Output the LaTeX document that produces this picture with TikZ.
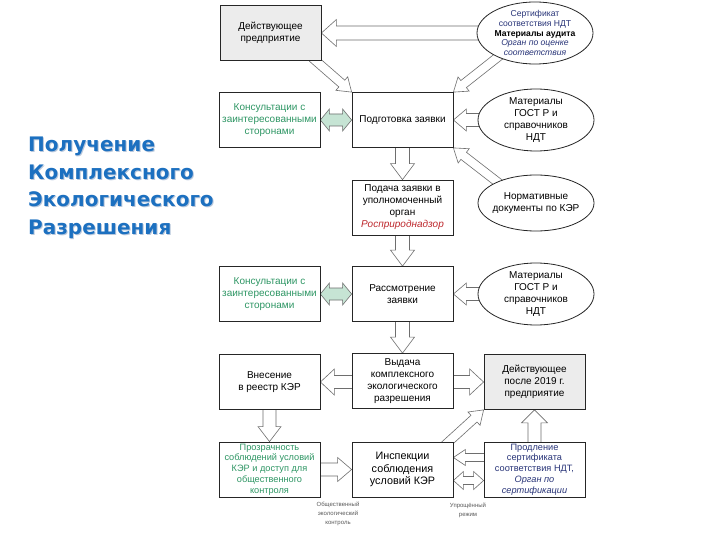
\documentclass[tikz,border=0pt]{standalone}
\usepackage{fontspec}
\setmainfont{Liberation Sans}
\newfontfamily\titlefont{DejaVu Sans}
\usetikzlibrary{shapes.geometric,calc}
\pgfdeclarelayer{back}
\pgfdeclarelayer{bg}
\pgfsetlayers{back,bg,main}
\definecolor{titleblue}{RGB}{28,112,192}
\definecolor{titleshadow}{RGB}{185,200,220}
\definecolor{greentext}{RGB}{46,150,100}
\definecolor{greenfill}{RGB}{198,228,212}
\definecolor{navytext}{RGB}{40,52,120}
\definecolor{redtext}{RGB}{190,40,45}
\definecolor{boxgray}{RGB}{236,236,236}
\definecolor{arrgray}{RGB}{110,110,110}
\newcommand\blockarr[6][]{%
  \coordinate (ba-h) at ($(#3)!#6!(#2)$);
  \draw[barrow,#1] ($(#2)!#4!90:(#3)$) -- ($(ba-h)!#4!-90:(#2)$) -- ($(ba-h)!#5!-90:(#2)$) -- (#3)
     -- ($(ba-h)!#5!90:(#2)$) -- ($(ba-h)!#4!90:(#2)$) -- ($(#2)!#4!-90:(#3)$) -- cycle;}
\newcommand\dblockarr[6][]{%
  \coordinate (da-h1) at ($(#3)!#6!(#2)$);
  \coordinate (da-h2) at ($(#2)!#6!(#3)$);
  \draw[barrow,#1] (#2) -- ($(da-h2)!#5!90:(#3)$) -- ($(da-h2)!#4!90:(#3)$) -- ($(da-h1)!#4!-90:(#2)$)
     -- ($(da-h1)!#5!-90:(#2)$) -- (#3) -- ($(da-h1)!#5!90:(#2)$) -- ($(da-h1)!#4!90:(#2)$)
     -- ($(da-h2)!#4!-90:(#3)$) -- ($(da-h2)!#5!-90:(#3)$) -- cycle;}
\tikzset{
  box/.style={draw=black!85, line width=0.8pt, fill=white, minimum width=101pt, minimum height=55pt,
    inner sep=1pt, align=center, font=\fontsize{10}{12}\selectfont},
  graybox/.style={box, fill=boxgray},
  smallbox/.style={box, font=\fontsize{9.2}{10.8}\selectfont},
  oval/.style={ellipse, draw=black!85, line width=0.8pt, fill=white, inner sep=0pt,
    minimum width=116pt, minimum height=62pt},
  ovaltext/.style={align=center, font=\fontsize{10}{12}\selectfont, inner sep=0pt},
  barrow/.style={draw=arrgray, fill=white, line width=0.6pt, line join=miter},
  greenarrow/.style={fill=greenfill},
  note/.style={align=center, text=black!65, font=\fontsize{6}{9}\selectfont, inner sep=0pt},
  titletext/.style={align=left, anchor=north west, inner sep=0pt,
    font=\titlefont\bfseries\fontsize{20}{27.5}\selectfont}
}
\begin{document}
\begin{tikzpicture}[x=1pt,y=-1pt]
\begin{pgfonlayer}{back}
\fill[white] (0,0) rectangle (720,540);
\end{pgfonlayer}
\useasboundingbox (0,0) rectangle (720,540);
% title
\node[titletext, text=titleshadow] (titleshadow) at (29,138) {Получение\\Комплексного\\Экологического\\Разрешения};
\node[titletext, text=titleblue] (title) at (28,137) {Получение\\Комплексного\\Экологического\\Разрешения};
% boxes
\node[graybox] (dp) at (270.5,33) {Действующее\\предприятие};
\node[oval] (e1) at (535,33) {};
\node[ovaltext, font=\fontsize{8.6}{9.8}\selectfont] (e1t) at (e1.center)
  {{\color{navytext}Сертификат}\\{\color{navytext}соответствия НДТ}\\\textbf{Материалы аудита}\\{\color{navytext}\itshape Орган по оценке}\\{\color{navytext}\itshape соответствия}};
\node[box, text=greentext] (cons1) at (269.5,120) {Консультации с\\заинтересованными\\сторонами};
\node[box] (prep) at (402.5,120) {Подготовка заявки};
\node[oval] (e2) at (536,120) {};
\node[ovaltext] (e2t) at (e2.center) {Материалы\\ГОСТ Р и\\справочников\\НДТ};
\node[box] (sub) at (402.5,207.5) {Подача заявки в\\уполномоченный\\орган\\{\color{redtext}\itshape Росприроднадзор}};
\node[oval, minimum height=56pt] (e3) at (536,203) {};
\node[ovaltext] (e3t) at (e3.center) {Нормативные\\документы по КЭР};
\node[box, text=greentext] (cons2) at (269.5,294) {Консультации с\\заинтересованными\\сторонами};
\node[box] (rev) at (402.5,294) {Рассмотрение\\заявки};
\node[oval] (e4) at (536,294) {};
\node[ovaltext] (e4t) at (e4.center) {Материалы\\ГОСТ Р и\\справочников\\НДТ};
\node[box] (reg) at (269.5,382) {Внесение\\в реестр КЭР};
\node[box] (iss) at (402.5,381) {Выдача\\комплексного\\экологического\\разрешения};
\node[graybox] (dp2) at (534.5,382) {Действующее\\после 2019 г.\\предприятие};
\node[smallbox, text=greentext] (tr) at (269.5,469.5) {Прозрачность\\соблюдений условий\\КЭР и доступ для\\общественного\\контроля};
\node[box, font=\fontsize{10.8}{12.8}\selectfont] (ins) at (402.5,469.5) {Инспекции\\соблюдения\\условий КЭР};
\node[smallbox, text=navytext] (ext) at (534.5,469.5) {Продление\\сертификата\\соответствия НДТ,\\{\itshape Орган по}\\{\itshape сертификации}};
\node[note] (n1) at (338,514) {Общественный\\экологический\\контроль};
\node[note] (n2) at (468,510) {Упрощённый\\режим};
% arrows
\begin{pgfonlayer}{bg}
\coordinate (a1s) at ($(e1.center)+(0,0)$);
\blockarr{a1s}{dp.east}{7pt}{13.5pt}{15pt}
\coordinate (a2s) at ($(dp.south east)+(-9,-3)$);
\blockarr{a2s}{prep.north west}{4.5pt}{9pt}{13pt}
\coordinate (a3s) at ($(e1.center)+(-32,20)$);
\blockarr{a3s}{prep.north east}{4.5pt}{9pt}{13pt}
\dblockarr[greenarrow]{cons1.east}{prep.west}{6pt}{11pt}{9pt}
\blockarr{e2.center}{prep.east}{6.5pt}{11pt}{13pt}
\coordinate (a6s) at ($(e3.center)+(-36,-19)$);
\blockarr{a6s}{prep.south east}{4.5pt}{9pt}{13pt}
\blockarr{prep.center}{sub.north}{7pt}{12pt}{16pt}
\blockarr{sub.center}{rev.north}{7pt}{12pt}{16pt}
\dblockarr[greenarrow]{cons2.east}{rev.west}{6pt}{11pt}{9pt}
\blockarr{e4.center}{rev.east}{6.5pt}{11pt}{13pt}
\blockarr{rev.center}{iss.north}{7pt}{12pt}{16pt}
\coordinate (a12s) at (iss.center |- reg.east);
\blockarr{a12s}{reg.east}{6.5pt}{13pt}{14pt}
\coordinate (a13s) at (iss.center |- dp2.west);
\blockarr{a13s}{dp2.west}{6.5pt}{13pt}{14pt}
\blockarr{reg.center}{tr.north}{6.5pt}{11.5pt}{15pt}
\blockarr{tr.center}{ins.west}{6.5pt}{12pt}{14pt}
\coordinate (a16s) at ($(ins.north east)+(-9,4)$);
\blockarr{a16s}{dp2.south west}{4.5pt}{9pt}{13pt}
\coordinate (a17s) at ($(ext.center)+(0,-12)$);
\coordinate (a17e) at ($(ins.east)+(0,-12)$);
\blockarr{a17s}{a17e}{4pt}{8pt}{12pt}
\coordinate (a18s) at ($(ext.west)+(0,11)$);
\coordinate (a18e) at ($(ins.east)+(0,11)$);
\dblockarr{a18s}{a18e}{4pt}{9pt}{10pt}
\blockarr{ext.center}{dp2.south}{6.5pt}{13pt}{13pt}
\end{pgfonlayer}
\end{tikzpicture}
\end{document}
